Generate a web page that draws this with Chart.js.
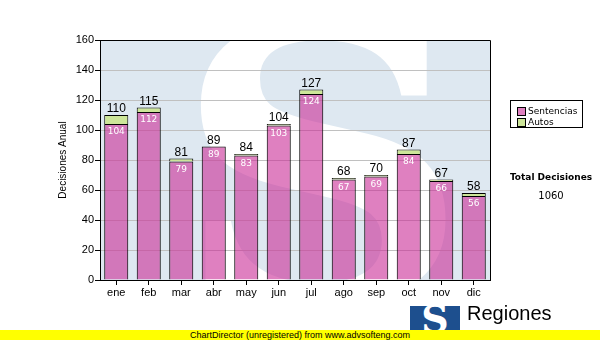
<!DOCTYPE html>
<html>
<head>
<meta charset="utf-8">
<title>Decisiones Anual</title>
<script src="https://cdn.jsdelivr.net/npm/chart.js@4.4.1/dist/chart.umd.min.js"></script>
<style>
  html, body { margin: 0; padding: 0; background: #fff; }
  #wrap { position: relative; width: 600px; height: 340px; overflow: hidden; }
  #c { position: absolute; left: 0; top: 0; }
  .legend { position: absolute; left: 510px; top: 100px; width: 71px; height: 26px;
            border: 1px solid #000; background: #fff; }
  .item { position: absolute; left: 6px; height: 10px; font: 9px "DejaVu Sans", sans-serif;
          line-height: 10px; color: #000; white-space: nowrap; }
  .item i { position: absolute; left: 0; top: 1px; width: 7px; height: 7px; border: 1px solid #000; }
  .item span { position: absolute; left: 11px; top: 0; }
  .total-t { position: absolute; left: 500px; width: 102px; top: 172px; text-align: center;
             font: bold 9px "DejaVu Sans", sans-serif; color: #000; }
  .total-v { position: absolute; left: 500px; width: 102px; top: 190px; text-align: center;
             font: 10px "DejaVu Sans", sans-serif; color: #000; }
  .logo { position: absolute; left: 410px; top: 306px; width: 50px; height: 30px; background: #1d4f8e;
          overflow: hidden; }
  .logo b { position: absolute; left: 0; width: 50px; top: -7px; text-align: center;
            font: bold 38px "DejaVu Serif", serif; color: #fff; line-height: 40px; }
  .brand { position: absolute; left: 467px; top: 302px; font: 20px "Liberation Sans", Arial, sans-serif;
           color: #000; line-height: 22px; }
  .footer { position: absolute; left: 0; top: 330px; width: 600px; height: 10px; background: #ffff00;
            font: 9px "Liberation Sans", Arial, sans-serif; line-height: 10px; text-align: center;
            color: #000; }
</style>
</head>
<body>
<div id="wrap">
  <canvas id="c" width="600" height="340"></canvas>
  <div class="legend">
    <div class="item" style="top:5px"><i style="background:#df80c0"></i><span>Sentencias</span></div>
    <div class="item" style="top:16px"><i style="background:#cde699"></i><span>Autos</span></div>
  </div>
  <div class="total-t">Total Decisiones</div>
  <div class="total-v" id="totalValue"></div>
  <div class="logo"><b>S</b></div>
  <div class="brand">Regiones</div>
  <div class="footer">ChartDirector (unregistered) from www.advsofteng.com</div>
</div>
<script>
// Monthly decisions, split by type
const months = ['ene', 'feb', 'mar', 'abr', 'may', 'jun', 'jul', 'ago', 'sep', 'oct', 'nov', 'dic'];
const sentencias = [104, 112, 79, 89, 83, 103, 124, 67, 69, 84, 66, 56];
const autos = [6, 3, 2, 0, 1, 1, 3, 1, 1, 3, 1, 2];
const yTicks = [0, 20, 40, 60, 80, 100, 120, 140, 160];

const totals = months.map((_, i) => sentencias[i] + autos[i]);
document.getElementById('totalValue').textContent = totals.reduce((a, b) => a + b, 0);

// Plot background: pale blue panel with a large white "S" watermark
const backdrop = {
  id: 'backdrop',
  beforeDraw(chart) {
    const { ctx, chartArea: a } = chart;
    ctx.save();
    ctx.beginPath();
    ctx.rect(a.left, a.top, a.right - a.left, a.bottom - a.top);
    ctx.clip();
    ctx.fillStyle = '#dee8f1';
    ctx.fillRect(a.left, a.top, a.right - a.left, a.bottom - a.top);
    ctx.translate(322, 300);
    ctx.scale(1.08, 1);
    ctx.fillStyle = '#ffffff';
    ctx.font = 'bold 380px "DejaVu Serif", serif';
    ctx.textAlign = 'center';
    ctx.textBaseline = 'alphabetic';
    ctx.fillText('S', 0, 0);
    ctx.restore();
  }
};

// Value labels: stack totals above, Sentencias inside the pink segment
const valueLabels = {
  id: 'valueLabels',
  afterDatasetsDraw(chart) {
    const { ctx, chartArea: a } = chart;
    const m0 = chart.getDatasetMeta(0);
    const m1 = chart.getDatasetMeta(1);
    ctx.save();
    // frame on top and right of the plot
    ctx.strokeStyle = '#000';
    ctx.lineWidth = 1;
    ctx.beginPath();
    ctx.moveTo(Math.round(a.left), Math.round(a.top) + 0.5);
    ctx.lineTo(Math.round(a.right) + 0.5, Math.round(a.top) + 0.5);
    ctx.lineTo(Math.round(a.right) + 0.5, Math.round(a.bottom));
    ctx.stroke();
    ctx.textAlign = 'center';
    months.forEach((_, i) => {
      const x = m0.data[i].x;
      const top = Math.min(m1.data[i].y, m0.data[i].y);
      ctx.fillStyle = '#000';
      ctx.font = '12px "Liberation Sans", Arial, sans-serif';
      ctx.textBaseline = 'alphabetic';
      ctx.fillText(String(totals[i]), x, top - 3);
      ctx.fillStyle = '#ffffff';
      ctx.font = '9px "DejaVu Sans", sans-serif';
      ctx.textBaseline = 'middle';
      ctx.fillText(String(sentencias[i]), x, m0.data[i].y + 8);
    });
    ctx.restore();
  }
};

new Chart(document.getElementById('c'), {
  type: 'bar',
  data: {
    labels: months,
    datasets: [
      { label: 'Sentencias', data: sentencias, backgroundColor: 'rgba(202,43,150,0.6)',
        borderColor: '#000', borderWidth: 1 },
      { label: 'Autos', data: autos, backgroundColor: '#cde699',
        borderColor: '#000', borderWidth: 1 }
    ]
  },
  options: {
    responsive: false,
    animation: false,
    devicePixelRatio: 1,
    layout: { padding: { left: 57, right: 110, top: 40, bottom: 38 } },
    datasets: { bar: { categoryPercentage: 1, barPercentage: 0.74 } },
    plugins: { legend: { display: false }, tooltip: { enabled: false } },
    scales: {
      x: {
        stacked: true,
        border: { color: '#000', width: 1 },
        grid: { display: true, drawOnChartArea: false, offset: false, tickLength: 5, tickColor: '#000' },
        ticks: { color: '#000', padding: 1, font: { family: '"Liberation Sans", Arial, sans-serif', size: 11 } },
        afterFit(s) { s.height = 22; }
      },
      y: {
        stacked: true,
        min: 0, max: 160,
        afterBuildTicks(s) { s.ticks = yTicks.map(v => ({ value: v })); },
        border: { color: '#000', width: 1 },
        grid: { color: '#c0c0c0', tickLength: 5, tickColor: '#000' },
        ticks: { color: '#000', padding: 1, font: { family: '"Liberation Sans", Arial, sans-serif', size: 11 } },
        title: { display: true, text: 'Decisiones Anual', color: '#000', padding: { top: 0, bottom: 0 },
                 font: { family: '"Liberation Sans", Arial, sans-serif', size: 10 } },
        afterFit(s) { s.width = 43; }
      }
    }
  },
  plugins: [backdrop, valueLabels]
});
</script>
</body>
</html>
